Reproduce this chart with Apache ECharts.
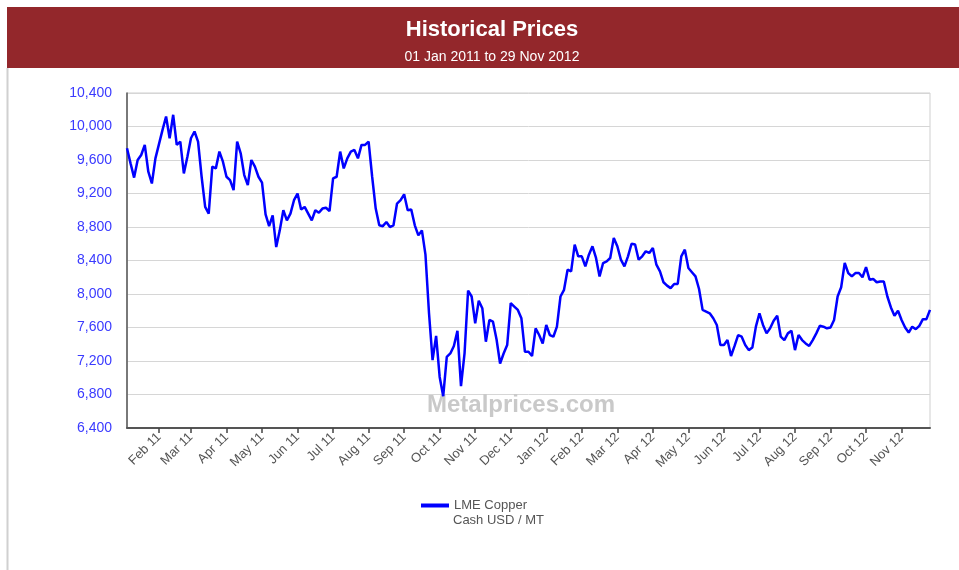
<!DOCTYPE html>
<html>
<head>
<meta charset="utf-8">
<title>Historical Prices</title>
<script src="https://cdn.jsdelivr.net/npm/echarts@6/dist/echarts.min.js"></script>
<style>
  html, body { margin: 0; padding: 0; background: #fff; }
  #main { width: 959px; height: 570px; }
</style>
</head>
<body>
<div id="main"></div>
<script>
// month labels on the x axis
var monthLabels2011 = ['Jan 11', 'Feb 11', 'Mar 11', 'Apr 11', 'May 11', 'Jun 11',
  'Jul 11', 'Aug 11', 'Sep 11', 'Oct 11', 'Nov 11', 'Dec 11'];
var monthLabels2012 = ['Jan 12', 'Feb 12', 'Mar 12', 'Apr 12', 'May 12', 'Jun 12',
  'Jul 12', 'Aug 12', 'Sep 12', 'Oct 12', 'Nov 12'];

// LME copper cash, USD / MT, sampled about every second trading day, one array per month
var prices2011 = [
  [9740, 9560, 9390, 9600, 9660, 9780, 9460, 9320, 9620],
  [9790, 9960, 10120, 9860, 10140, 9780, 9820, 9440, 9640],
  [9860, 9940, 9820, 9400, 9040, 8960, 9520, 9500, 9700, 9580],
  [9400, 9360, 9240, 9820, 9680, 9420, 9300, 9600, 9520, 9400],
  [9330, 8950, 8810, 8940, 8560, 8760, 9000, 8880, 8960, 9120],
  [9200, 9010, 9040, 8960, 8880, 9000, 8970, 9020, 9030, 8990],
  [9380, 9400, 9700, 9500, 9620, 9700, 9720, 9620, 9780, 9780],
  [9820, 9400, 9020, 8820, 8810, 8860, 8800, 8820, 9080, 9120],
  [9190, 9000, 9010, 8820, 8700, 8760, 8470, 7770, 7210, 7500],
  [7010, 6780, 7250, 7290, 7380, 7560, 6900, 7290, 8040, 7970],
  [7650, 7920, 7830, 7430, 7690, 7670, 7460, 7170, 7290, 7390],
  [7890, 7850, 7810, 7710, 7310, 7310, 7260, 7590, 7510, 7410]
];
var prices2012 = [
  [7630, 7510, 7490, 7610, 7970, 8050, 8290, 8270, 8590, 8450],
  [8450, 8330, 8470, 8570, 8430, 8210, 8370, 8390, 8430, 8670],
  [8570, 8410, 8330, 8450, 8600, 8590, 8410, 8450, 8510, 8490],
  [8550, 8350, 8270, 8140, 8100, 8070, 8120, 8120, 8450, 8530],
  [8310, 8260, 8210, 8060, 7810, 7790, 7770, 7710, 7630, 7390],
  [7390, 7450, 7260, 7380, 7510, 7490, 7390, 7330, 7360, 7610],
  [7770, 7630, 7530, 7590, 7680, 7740, 7490, 7450, 7530, 7560],
  [7330, 7510, 7450, 7410, 7380, 7450, 7530, 7620, 7610, 7590],
  [7600, 7690, 7970, 8080, 8370, 8250, 8210, 8250, 8250, 8200],
  [8320, 8170, 8180, 8140, 8150, 8150, 7970, 7840, 7740, 7800],
  [7690, 7600, 7540, 7610, 7580, 7620, 7700, 7700, 7810]
];

// y axis tick labels
var yTicks = [6400, 6800, 7200, 7600, 8000, 8400, 8800, 9200, 9600, 10000, 10400];

var monthLabels = monthLabels2011.concat(monthLabels2012);
var monthly = prices2011.concat(prices2012);
var cats = [], values = [], monthStart = [];
monthly.forEach(function (arr, m) {
  arr.forEach(function (v, k) {
    cats.push(monthLabels[m] + (k ? ' #' + k : ''));
    values.push(v);
    monthStart.push(k === 0 && m > 0);
  });
});

var font = 'Arial, "Liberation Sans", sans-serif';
var chart = echarts.init(document.getElementById('main'));

var option = {
  animation: false,
  backgroundColor: '#fff',
  title: {
    text: 'Historical Prices',
    subtext: '01 Jan 2011 to 29 Nov 2012',
    left: 487,
    top: 14,
    textAlign: 'center',
    itemGap: 9,
    textStyle: { color: '#fff', fontSize: 22, fontWeight: 'bold', fontFamily: font },
    subtextStyle: { color: '#fff', fontSize: 14, fontFamily: font }
  },
  graphic: [
    { type: 'rect', z: -10, shape: { x: 7, y: 7, width: 952, height: 61 }, style: { fill: '#93272b' } },
    { type: 'line', z: -10, shape: { x1: 7.5, y1: 68, x2: 7.5, y2: 570 }, style: { stroke: '#d0d0d0', lineWidth: 2 } },
    { type: 'text', z: 1, left: 427, top: 393,
      style: { text: 'Metalprices.com', fill: '#c9c9c9', font: 'bold 24px ' + font } },
    { type: 'text', left: 453, top: 514,
      style: { text: 'Cash USD / MT', fill: '#555', font: '13px ' + font } }
  ],
  legend: {
    left: 416,
    top: 494,
    icon: 'rect',
    itemWidth: 28,
    itemHeight: 4,
    data: ['LME Copper'],
    textStyle: { color: '#555', fontSize: 13, fontFamily: font }
  },
  grid: {
    left: 127, right: 29, top: 93, bottom: 142,
    show: true, borderColor: '#cfcfcf', borderWidth: 1
  },
  xAxis: {
    type: 'category',
    data: cats,
    boundaryGap: false,
    axisLine: { lineStyle: { color: '#555', width: 2 } },
    axisTick: {
      length: 5,
      lineStyle: { color: '#444', width: 1.5 },
      interval: function (i) { return monthStart[i]; }
    },
    axisLabel: {
      rotate: 45,
      margin: 7,
      color: '#555',
      fontSize: 13,
      fontFamily: font,
      interval: function (i) { return monthStart[i]; },
      formatter: function (v) { return v.split(' #')[0]; }
    },
    splitLine: { show: false }
  },
  yAxis: {
    type: 'value',
    min: yTicks[0],
    max: yTicks[yTicks.length - 1],
    interval: yTicks[1] - yTicks[0],
    axisLine: { show: true, lineStyle: { color: '#555', width: 1.5 } },
    axisTick: { show: false },
    axisLabel: {
      margin: 15,
      color: '#3a3aff',
      fontSize: 14,
      fontFamily: font,
      formatter: function (v) { return v.toLocaleString('en-US'); }
    },
    splitLine: { lineStyle: { color: '#d6d6d6', width: 1 } }
  },
  series: [{
    name: 'LME Copper',
    type: 'line',
    data: values,
    symbol: 'none',
    z: 3,
    itemStyle: { color: '#0000ff' },
    lineStyle: { color: '#0000ff', width: 2.5 }
  }]
};
chart.setOption(option);
</script>
</body>
</html>
